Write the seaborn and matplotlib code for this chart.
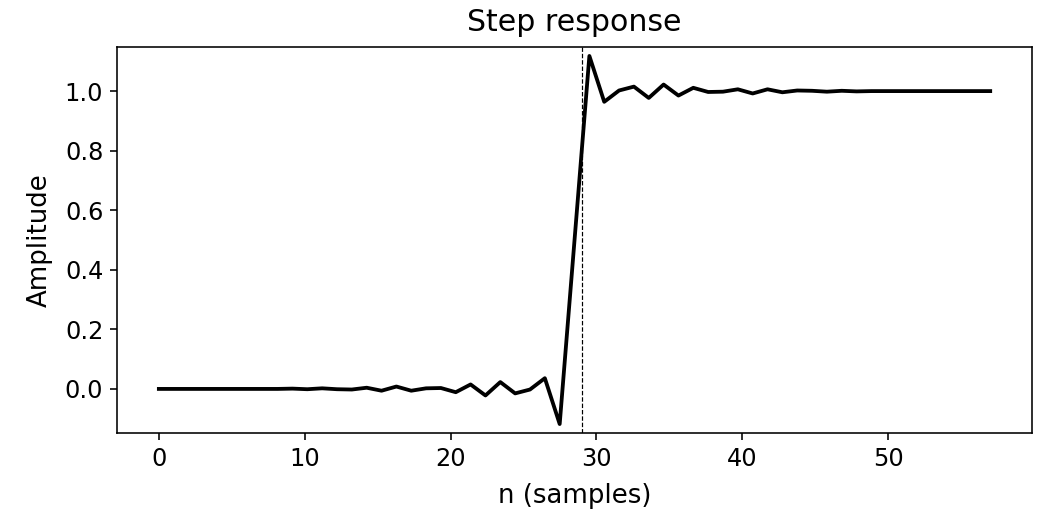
import numpy as np
import pandas as pd
import matplotlib
matplotlib.use("Agg")
import matplotlib.pyplot as plt
import seaborn as sns

# sample positions (57 samples spanning 0..57)
n_samples = np.linspace(0, 57, 57)

# step response amplitude
amplitude = [
    0.000, 0.000, 0.000, 0.000, 0.000, 0.000, 0.000, 0.000, 0.000, 0.001,
    -0.001, 0.002, -0.001, -0.002, 0.004, -0.006, 0.008, -0.006, 0.002, 0.003,
    -0.011, 0.015, -0.022, 0.023, -0.015, -0.002, 0.036, -0.118, 0.500, 1.118,
    0.964, 1.002, 1.015, 0.977, 1.022, 0.985, 1.011, 0.997, 0.998, 1.006,
    0.992, 1.006, 0.996, 1.002, 1.001, 0.998, 1.001, 0.999, 1.000, 1.000,
    1.000, 1.000, 1.000, 1.000, 1.000, 1.000, 1.000,
]

marker_x = 29
title = "Step response"
xlabel = "n (samples)"
ylabel = "Amplitude"

df = pd.DataFrame({"n": n_samples, "amp": amplitude})

plt.rcParams["font.family"] = ["DejaVu Sans"]
fig = plt.figure(figsize=(1038 / 144, 512 / 144), dpi=144)
ax = fig.add_axes([0.113, 0.1543, 0.881, 0.7533])

sns.lineplot(data=df, x="n", y="amp", ax=ax, color="black", linewidth=1.9)
ax.axvline(marker_x, color="black", linestyle="--", linewidth=0.6)

ax.set_ylim(-0.148, 1.147)
ax.set_xticks([0, 10, 20, 30, 40, 50])
ax.set_yticks([0.0, 0.2, 0.4, 0.6, 0.8, 1.0])
ax.tick_params(labelsize=12)
ax.set_title(title, fontsize=15, pad=8)
ax.set_xlabel(xlabel, fontsize=13, labelpad=6)
ax.set_ylabel(ylabel, fontsize=13, labelpad=6)

fig.savefig("out.png", dpi=144)
